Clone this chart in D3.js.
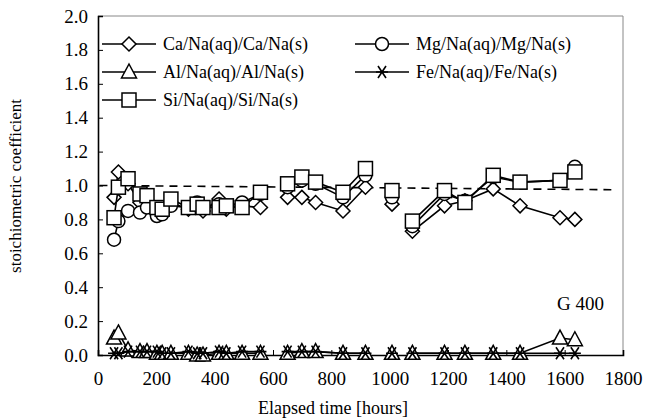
<!DOCTYPE html>
<html><head><meta charset="utf-8">
<script src="https://cdn.jsdelivr.net/npm/d3@7"></script>
<style>body{margin:0;background:#fff}svg text{font-family:"Liberation Serif",serif;fill:#000}</style>
</head><body><svg id="c" width="647" height="418" font-family="Liberation Serif"></svg>
<script>
const hours   = [55,70,103,144,168,202,220,250,310,340,360,415,440,494,557, 650,699,746,840,917, 1008, 1078,1188,1258,1355,1447,1584,1635];
const segment = [1,1,1,1,1,1,1,1,1,1,1,1,1,1,1, 2,2,2,2,2, 3, 4,4,4,4,4,4,4];
const caRatio = [0.93,1.08,1.01,0.90,0.91,0.86,0.84,0.90,0.86,0.88,0.85,0.92,0.86,0.88,0.87, 0.93,0.93,0.90,0.85,0.99, 0.89, 0.73,0.88,0.91,0.98,0.88,0.81,0.80];
const mgRatio = [0.68,0.79,0.85,0.84,0.87,0.82,0.83,0.88,0.87,0.90,0.87,0.89,0.88,0.90,0.95, 0.99,1.03,1.01,0.93,1.06, 0.93, 0.76,0.95,0.91,1.05,1.02,1.03,1.11];
const alRatio = [0.10,0.13,0.03,0.02,0.02,0.01,0.01,0.01,0.01,0.00,0.00,0.01,0.01,0.01,0.01, 0.01,0.02,0.02,0.01,0.01, 0.01, 0.01,0.01,0.01,0.01,0.01,0.10,0.09];
const feRatio = [0.01,0.01,0.02,0.02,0.02,0.02,0.01,0.01,0.02,0.01,0.01,0.02,0.01,0.02,0.02, 0.02,0.02,0.02,0.01,0.01, 0.01, 0.01,0.01,0.01,0.01,0.01,0.01,0.01];
const siRatio = [0.81,0.99,1.04,0.95,0.94,0.87,0.86,0.92,0.87,0.89,0.87,0.87,0.88,0.87,0.96, 1.01,1.05,1.02,0.96,1.10, 0.97, 0.79,0.97,0.90,1.06,1.02,1.03,1.08];
const seriesNames = ["Ca/Na(aq)/Ca/Na(s)","Mg/Na(aq)/Mg/Na(s)","Al/Na(aq)/Al/Na(s)","Fe/Na(aq)/Fe/Na(s)","Si/Na(aq)/Si/Na(s)"];
const seriesValues = [caRatio, mgRatio, alRatio, feRatio, siRatio];
const seriesMarkers = ["diamond","circle","triangle","star","square"];
const refLineHours = [5, 1760];
const refLineValues = [1.0, 0.975];
const xTicks = [0,200,400,600,800,1000,1200,1400,1600,1800];
const yTicks = [0,0.2,0.4,0.6,0.8,1.0,1.2,1.4,1.6,1.8,2.0];
const sampleLabel = "G 400";

const FONT = "Liberation Serif";
const svg = d3.select("#c");
const L=98, R=623, T=16, B=355;
const x = d3.scaleLinear().domain([0,1800]).range([L,R]);
const y = d3.scaleLinear().domain([0,2]).range([B,T]);

svg.append("line").attr("x1",L).attr("x2",R).attr("y1",T).attr("y2",T).attr("stroke","#888").attr("stroke-width",1);
svg.append("line").attr("x1",R).attr("x2",R).attr("y1",T).attr("y2",B).attr("stroke","#888").attr("stroke-width",1);

const xAxis = svg.append("g").attr("transform",`translate(0,${B})`)
  .call(d3.axisBottom(x).tickValues(xTicks).tickSize(-5).tickPadding(17).tickFormat(d3.format("d")));
const yAxis = svg.append("g").attr("transform",`translate(${L},0)`)
  .call(d3.axisLeft(y).tickValues(yTicks).tickSize(-5).tickPadding(10).tickFormat(d3.format(".1f")));
[xAxis,yAxis].forEach(g=>{
  g.attr("font-family",FONT).attr("font-size",19);
  g.select(".domain").attr("stroke","#000").attr("stroke-width",1.6);
  g.selectAll(".tick line").attr("stroke","#000").attr("stroke-width",1);
  g.selectAll("text").attr("font-family",FONT).style("font-size","19px");
});
xAxis.selectAll(".tick").filter(d=>d===0).select("line").remove();
yAxis.selectAll(".tick").filter(d=>d===0).select("line").remove();

svg.append("text").attr("x",333).attr("y",414).attr("text-anchor","middle").attr("font-family",FONT).style("font-size","18px").text("Elapsed time [hours]");
svg.append("text").attr("transform","translate(21,186) rotate(-90)").attr("text-anchor","middle").attr("font-family",FONT).style("font-size","17px").text("stoichiometric coefficient");

svg.append("line").attr("x1",x(refLineHours[0])).attr("x2",x(refLineHours[1]))
  .attr("y1",y(refLineValues[0])).attr("y2",y(refLineValues[1]))
  .attr("stroke","#000").attr("stroke-width",1.6).attr("stroke-dasharray","8,6");

function marker(g, type, cx, cy){
  const s=g.append("g").attr("transform",`translate(${cx},${cy})`);
  let el;
  if(type==="diamond") el=s.append("path").attr("d","M0,-7L7,0L0,7L-7,0Z");
  else if(type==="circle") el=s.append("circle").attr("r",6.5);
  else if(type==="triangle") el=s.append("path").attr("d","M0,-8L7.5,6L-7.5,6Z");
  else if(type==="square") el=s.append("rect").attr("x",-7).attr("y",-7).attr("width",14).attr("height",14);
  else if(type==="star"){
    s.append("path").attr("d","M-6,0L6,0M-4,-6L4,6M4,-6L-4,6").attr("stroke","#000").attr("stroke-width",1.6).attr("fill","none");
    return;
  }
  el.attr("fill","#fff").attr("stroke","#000").attr("stroke-width",1.5);
}

const line = d3.line().x(d=>x(d.h)).y(d=>y(d.v));
seriesValues.forEach((vals,si)=>{
  const pts = hours.map((h,i)=>({h,v:vals[i],s:segment[i]}));
  const groups = d3.groups(pts,d=>d.s);
  const g = svg.append("g");
  groups.forEach(([k,arr])=>{
    g.append("path").attr("d",line(arr)).attr("fill","none").attr("stroke","#000").attr("stroke-width",1.6);
  });
  pts.forEach(p=>marker(g,seriesMarkers[si],x(p.h),y(p.v)));
});

const legPos = [[102,44],[355,44],[102,72],[355,72],[102,100]];
seriesNames.forEach((n,i)=>{
  const [lx,ly]=legPos[i];
  const g=svg.append("g");
  g.append("line").attr("x1",lx).attr("x2",lx+54).attr("y1",ly).attr("y2",ly).attr("stroke","#000").attr("stroke-width",1.6);
  marker(g,seriesMarkers[i],lx+27,ly);
  g.append("text").attr("x",lx+61).attr("y",ly+6).attr("font-family",FONT).style("font-size","18px").text(n);
});

svg.append("text").attr("x",557).attr("y",310).attr("font-family",FONT).style("font-size","19px").text(sampleLabel);
</script></body></html>
